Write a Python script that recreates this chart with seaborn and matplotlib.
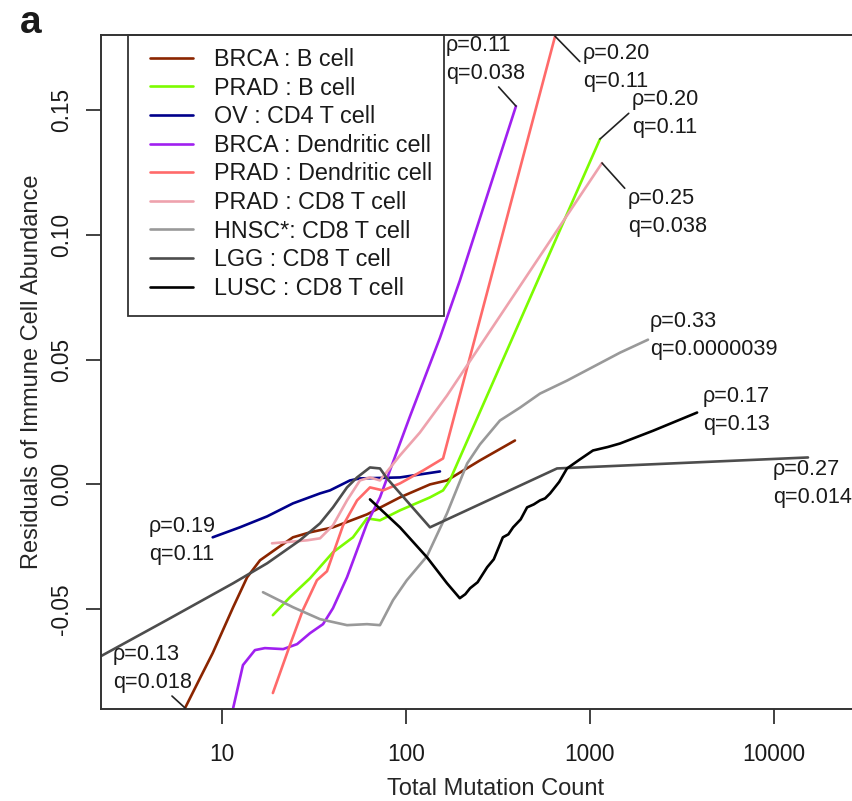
import numpy as np
import pandas as pd
import matplotlib
matplotlib.use("Agg")
import matplotlib.pyplot as plt
from matplotlib.lines import Line2D
from matplotlib.patches import Rectangle
import seaborn as sns

# ---------------- data ----------------
series_names = ["BRCA : B cell", "PRAD : B cell", "OV : CD4 T cell",
                "BRCA : Dendritic cell", "PRAD : Dendritic cell",
                "PRAD : CD8 T cell", "HNSC*: CD8 T cell",
                "LGG : CD8 T cell", "LUSC : CD8 T cell"]
series_colors = ["#8B2500", "#7CFC00", "#00008B", "#A020F0", "#FF6A6A",
                 "#EEA2AD", "#999999", "#4D4D4D", "#000000"]

brca_b_x = [6.3, 7.6, 8.9, 11.5, 13.7, 16.1, 19.9, 24.3, 30.1, 40.1, 61.4, 92.7, 135, 167, 252, 391]
brca_b_y = [-0.0896, -0.0776, -0.0676, -0.0492, -0.0372, -0.0304, -0.0256, -0.0212, -0.0192,
            -0.0172, -0.0120, -0.0052, 0.0000, 0.0016, 0.0096, 0.0176]

prad_b_x = [18.9, 23.4, 30.1, 40.1, 51.5, 61.4, 72.2, 92.7, 135, 159, 173, 1133]
prad_b_y = [-0.0524, -0.0452, -0.0376, -0.0272, -0.0212, -0.0136, -0.0144, -0.0104,
            -0.0052, -0.0024, 0.0016, 0.1384]

ov_cd4_x = [8.9, 12.5, 17.6, 24.3, 34.1, 38.6, 49.6, 56.2, 92.7, 153]
ov_cd4_y = [-0.0212, -0.0172, -0.0128, -0.0076, -0.0036, -0.0024, 0.0016, 0.0024, 0.0028, 0.0052]

brca_dc_x = [11.5, 13.0, 15.1, 17.1, 21.5, 25.6, 30.1, 35.4, 40.1, 47.8, 61.4, 72.2, 105, 153, 196, 396]
brca_dc_y = [-0.0896, -0.0724, -0.0664, -0.0656, -0.0660, -0.0640, -0.0596, -0.0560, -0.0496,
             -0.0372, -0.0156, -0.0052, 0.0272, 0.0588, 0.0816, 0.1516]

prad_dc_x = [18.9, 23.4, 27.5, 32.8, 37.2, 45.5, 54.2, 63.7, 75.0, 92.7, 124, 159, 646]
prad_dc_y = [-0.0836, -0.0644, -0.0504, -0.0384, -0.0348, -0.0164, -0.0064, -0.0012, -0.0024,
             0.0004, 0.0056, 0.0104, 0.1796]

prad_cd8_x = [18.7, 29.0, 34.1, 40.1, 47.8, 56.2, 63.7, 72.2, 92.7, 119, 167, 1162]
prad_cd8_y = [-0.0236, -0.0224, -0.0216, -0.0164, -0.0064, 0.0016, 0.0028, 0.0016, 0.0116,
              0.0208, 0.0356, 0.1288]

hnsc_cd8_x = [16.7, 24.3, 34.1, 47.8, 61.4, 72.2, 85.0, 101, 130, 167, 215, 252, 324, 417, 535, 750, 1456, 2066]
hnsc_cd8_y = [-0.0432, -0.0492, -0.0540, -0.0564, -0.0560, -0.0564, -0.0464, -0.0384, -0.0288,
              -0.0116, 0.0084, 0.0160, 0.0256, 0.0308, 0.0364, 0.0416, 0.0528, 0.0580]

lgg_cd8_x = [2.2, 5.0, 11.5, 17.6, 26.5, 34.1, 40.1, 47.8, 54.2, 63.7, 72.2, 78.9, 135, 662, 15300]
lgg_cd8_y = [-0.0688, -0.0544, -0.0396, -0.0316, -0.0224, -0.0156, -0.0092, -0.0012, 0.0028,
             0.0068, 0.0064, 0.0024, -0.0172, 0.0064, 0.0108]

lusc_cd8_x = [63.7, 92.7, 130, 167, 196, 210, 223, 245, 276, 300, 336, 360, 382, 420, 455, 495,
              535, 570, 607, 680, 750, 880, 1038, 1250, 1456, 2200, 3820]
lusc_cd8_y = [-0.0060, -0.0172, -0.0292, -0.0396, -0.0456, -0.0440, -0.0416, -0.0392, -0.0332,
              -0.0300, -0.0212, -0.0200, -0.0172, -0.0140, -0.0092, -0.0080, -0.0064, -0.0056,
              -0.0036, 0.0010, 0.0064, 0.0100, 0.0136, 0.0150, 0.0164, 0.0215, 0.0288]

series_x = [brca_b_x, prad_b_x, ov_cd4_x, brca_dc_x, prad_dc_x, prad_cd8_x, hnsc_cd8_x, lgg_cd8_x, lusc_cd8_x]
series_y = [brca_b_y, prad_b_y, ov_cd4_y, brca_dc_y, prad_dc_y, prad_cd8_y, hnsc_cd8_y, lgg_cd8_y, lusc_cd8_y]

rho_q_labels = ["ρ=0.13\nq=0.018", "ρ=0.20\nq=0.11", "ρ=0.19\nq=0.11",
                "ρ=0.11\nq=0.038", "ρ=0.20\nq=0.11", "ρ=0.25\nq=0.038",
                "ρ=0.33\nq=0.0000039", "ρ=0.27\nq=0.014", "ρ=0.17\nq=0.13"]

xtick_vals = [10, 100, 1000, 10000]
xtick_labels = ["10", "100", "1000", "10000"]
ytick_vals = [-0.05, 0.0, 0.05, 0.10, 0.15]
ytick_labels = ["-0.05", "0.00", "0.05", "0.10", "0.15"]

# ---------------- figure ----------------
sns.set_style("white")
plt.rcParams["font.family"] = ["Liberation Sans", "DejaVu Sans"]
plt.rcParams["text.color"] = "#1a1a1a"

W, H = 853, 801
fig = plt.figure(figsize=(W / 100, H / 100), dpi=100)
# axes box: left 101 px, top 35 px, bottom 709 px; right edge lies beyond the image (cropped)
ax = fig.add_axes([101 / W, 1 - 709 / H, (891 - 101) / W, (709 - 35) / H])

frames = []
for name, xs, ys in zip(series_names, series_x, series_y):
    frames.append(pd.DataFrame({"count": xs, "resid": ys, "series": name}))
df = pd.concat(frames, ignore_index=True)

sns.lineplot(data=df, x="count", y="resid", hue="series", hue_order=series_names,
             palette=dict(zip(series_names, series_colors)), estimator=None, sort=False,
             legend=False, linewidth=1.9, ax=ax)

ax.set_xscale("log")
ax.set_xlim(10 ** (1 - 121 / 184), 10 ** (1 + (891 - 222) / 184))
ax.set_ylim(-0.0900, 0.1801)

ax.set_xticks(xtick_vals)
ax.set_xticklabels(xtick_labels)
ax.xaxis.set_minor_locator(matplotlib.ticker.NullLocator())
ax.set_yticks(ytick_vals)
ax.set_yticklabels(ytick_labels, rotation=90, va="center")
ax.tick_params(axis="both", which="major", bottom=True, left=True, direction="out",
               length=10.8, width=1.3, color="#333333", labelsize=16.3, labelcolor="#1a1a1a")
ax.tick_params(axis="x", pad=14.0)
ax.tick_params(axis="y", pad=9.2)

for side in ["left", "bottom", "top"]:
    ax.spines[side].set_visible(True)
    ax.spines[side].set_color("#333333")
    ax.spines[side].set_linewidth(1.4)
ax.spines["right"].set_visible(False)

ax.set_xlabel("Total Mutation Count", fontsize=17, labelpad=8.5)
ax.set_ylabel("Residuals of Immune Cell Abundance", fontsize=17, labelpad=5.4)

# ---------------- annotations ----------------
def px_to_data(px, py):
    return 10 ** (1 + (px - 222) / 184), (484.4 - py) / 2495

# (series index, anchor end: 0 first / -1 last, text top-left px, relpos or None)
ann_specs = [
    (3, -1, (446, 35), (0.6, 0.05)),
    (4, -1, (583, 43), (0.0, 0.55)),
    (1, -1, (632, 89), (0.0, 0.56)),
    (5, -1, (628, 188), (0.0, 0.92)),
    (6, -1, (650, 311), None),
    (8, -1, (703, 386), None),
    (7, -1, (773, 459), None),
    (2, 0, (149, 516), None),
    (0, 0, (113, 644), (0.62, 0.12)),
]
for idx, end, (tx, ty), relpos in ann_specs:
    xy = (series_x[idx][end], series_y[idx][end])
    txy = px_to_data(tx, ty)
    kw = {}
    if relpos is not None:
        kw["arrowprops"] = dict(arrowstyle="-", color="#222222", lw=1.2,
                                shrinkA=0, shrinkB=0, relpos=relpos)
    ax.annotate(rho_q_labels[idx], xy=xy, xytext=txy, xycoords="data", textcoords="data",
                ha="left", va="top", fontsize=15.6, linespacing=1.42,
                annotation_clip=False, **kw)

# ---------------- legend ----------------
handles = [Line2D([0], [0], color=c, lw=1.9) for c in series_colors]
leg = ax.legend(handles, series_names, loc="upper left",
                bbox_to_anchor=(150 / W, 1 - 48 / H), bbox_transform=fig.transFigure,
                frameon=False, borderpad=0, borderaxespad=0, handlelength=1.85,
                handletextpad=0.9, labelspacing=0.24, fontsize=16.8)
fig.add_artist(Rectangle((128 / W, 1 - 316 / H), (444 - 128) / W, (316 - 35) / H,
                         transform=fig.transFigure, fill=False, edgecolor="#333333", lw=1.3))

fig.text(20 / W, 1 - 33 / H, "a", fontsize=28, fontweight="bold", va="baseline", ha="left")

fig.savefig("out.png", dpi=100)
